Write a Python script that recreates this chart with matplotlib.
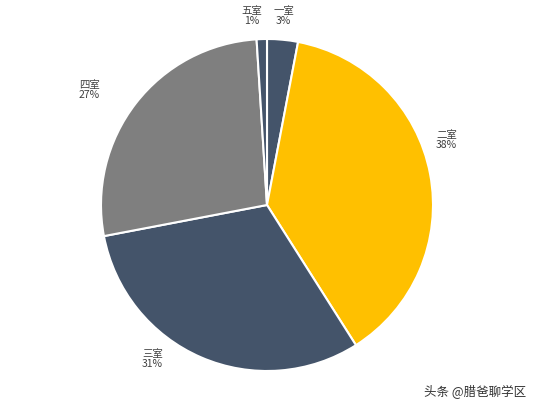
import matplotlib
matplotlib.use("Agg")
import matplotlib.pyplot as plt

plt.rcParams['font.family'] = ['Noto Sans CJK SC', 'DejaVu Sans']

rooms = ["一室", "二室", "三室", "四室", "五室"]
shares = [3, 38, 31, 27, 1]
colors = ["#44546A", "#FFC000", "#44546A", "#7F7F7F", "#44546A"]

fig = plt.figure(figsize=(5.34, 4.09), dpi=100)
ax = fig.add_axes([(267 - 166) / 534, (409 - 371) / 409, 332 / 534, 332 / 409])

labels = [f"{r}\n{s}%" for r, s in zip(rooms, shares)]
wedges, texts = ax.pie(
    shares, colors=colors, startangle=90, counterclock=False,
    labels=labels, labeldistance=1.12,
    wedgeprops=dict(edgecolor="white", linewidth=1.5),
    textprops=dict(fontsize=7.5, color="#404040", linespacing=1.0),
)
# label spots as placed in the reference (pie radius units)
label_pos = [(0.10, 1.14), (1.08, 0.39), (-0.69, -0.93), (-1.07, 0.69), (-0.09, 1.14)]
for t, p in zip(texts, label_pos):
    t.set_position(p)
    t.set_horizontalalignment("center")
    t.set_verticalalignment("center")
ax.set_xlim(-1, 1)
ax.set_ylim(-1, 1)
ax.set_aspect("equal")

fig.text(0.985, 0.025, "头条 @腊爸聊学区", ha="right", va="bottom",
         fontsize=9, color="#333333")

fig.savefig("out.png", dpi=100)
